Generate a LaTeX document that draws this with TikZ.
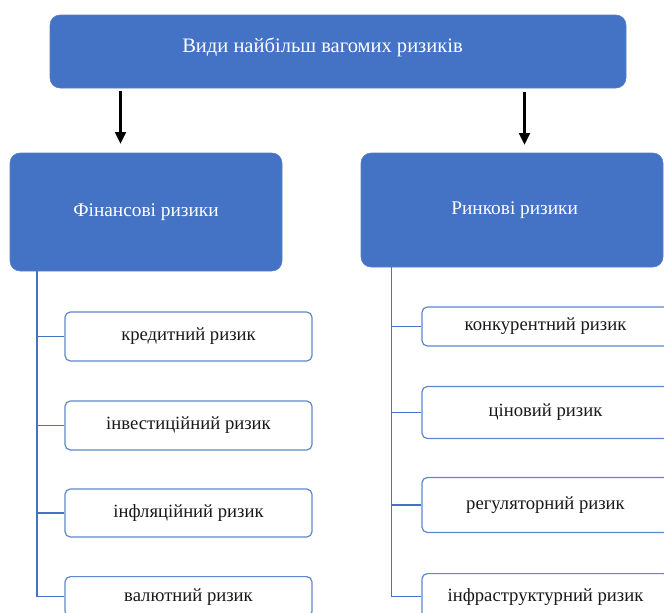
\documentclass[tikz,border=0pt]{standalone}
\usepackage{fontspec}
\setmainfont{Liberation Serif}
\usetikzlibrary{arrows.meta}
\definecolor{obl}{HTML}{4472C4}
\begin{document}
\begin{tikzpicture}[x=0.75pt,y=-0.75pt,
  bigbox/.style={draw=obl!90!white,fill=obl,rounded corners=7.5pt,text=white,font=\fontsize{14.5pt}{16pt}\selectfont,inner sep=0pt},
  smallbox/.style={draw=obl!85!white,line width=0.9pt,fill=white,rounded corners=4pt,font=\fontsize{14pt}{16pt}\selectfont,inner sep=0pt,minimum width=247*0.75pt,text=black!90},
  lbl/.style={text=white,font=\fontsize{15.4pt}{17pt}\selectfont,inner sep=0pt},
  link/.style={draw=obl,line width=1pt},
  arr/.style={draw=black,line width=2.2pt,-{Triangle[length=9pt,width=8pt]}}]
\useasboundingbox (0,0) rectangle (664,612);
\clip (0,0) rectangle (664,612);
% top
\node[bigbox,minimum width=576*0.75pt,minimum height=73*0.75pt] (top) at (338,51.5) {};
\node[lbl] (toplbl) at (322.5,47) {Види найбільш вагомих ризиків};
\node[bigbox,minimum width=272*0.75pt,minimum height=118*0.75pt] (fin) at (146,212) {Фінансові ризики};
\node[bigbox,minimum width=302*0.75pt,minimum height=114*0.75pt] (mkt) at (512,210) {\hspace*{4pt}Ринкові ризики};
\coordinate (a1s) at (120.5,91);
\coordinate (a1e) at (120.5,144);
\coordinate (a2s) at (524.5,92);
\coordinate (a2e) at (524.5,145);
\draw[arr] (a1s) -- (a1e);
\draw[arr] (a2s) -- (a2e);
% left children
\node[smallbox,minimum height=49*0.75pt] (l1) at (188.5,336.5) {кредитний ризик};
\node[smallbox,minimum height=49*0.75pt] (l2) at (188.5,425.5) {інвестиційний ризик};
\node[smallbox,minimum height=48*0.75pt] (l3) at (188.5,513) {інфляційний ризик};
\node[smallbox,minimum height=40*0.75pt,anchor=north] (l4) at (188.5,576) {\raisebox{-4pt}{валютний ризик}};
\coordinate (lv) at (37,271);
\draw[link] (lv) |- (l4.west);
\draw[link] (lv |- l1.west) -- (l1.west);
\draw[link] (lv |- l2.west) -- (l2.west);
\draw[link] (lv |- l3.west) -- (l3.west);
% right children
\node[smallbox,minimum height=39*0.75pt] (r1) at (545.5,326.5) {конкурентний ризик};
\node[smallbox,minimum height=52*0.75pt] (r2) at (545.5,412.5) {ціновий ризик};
\node[smallbox,minimum height=55*0.75pt] (r3) at (545.5,505) {регуляторний ризик};
\node[smallbox,minimum height=46*0.75pt,anchor=north] (r4) at (545.5,573) {\raisebox{-3pt}{інфраструктурний ризик}};
\coordinate (rv) at (391.5,267);
\draw[link] (rv) |- (r4.west);
\draw[link] (rv |- r1.west) -- (r1.west);
\draw[link] (rv |- r2.west) -- (r2.west);
\draw[link] (rv |- r3.west) -- (r3.west);
\end{tikzpicture}
\end{document}
